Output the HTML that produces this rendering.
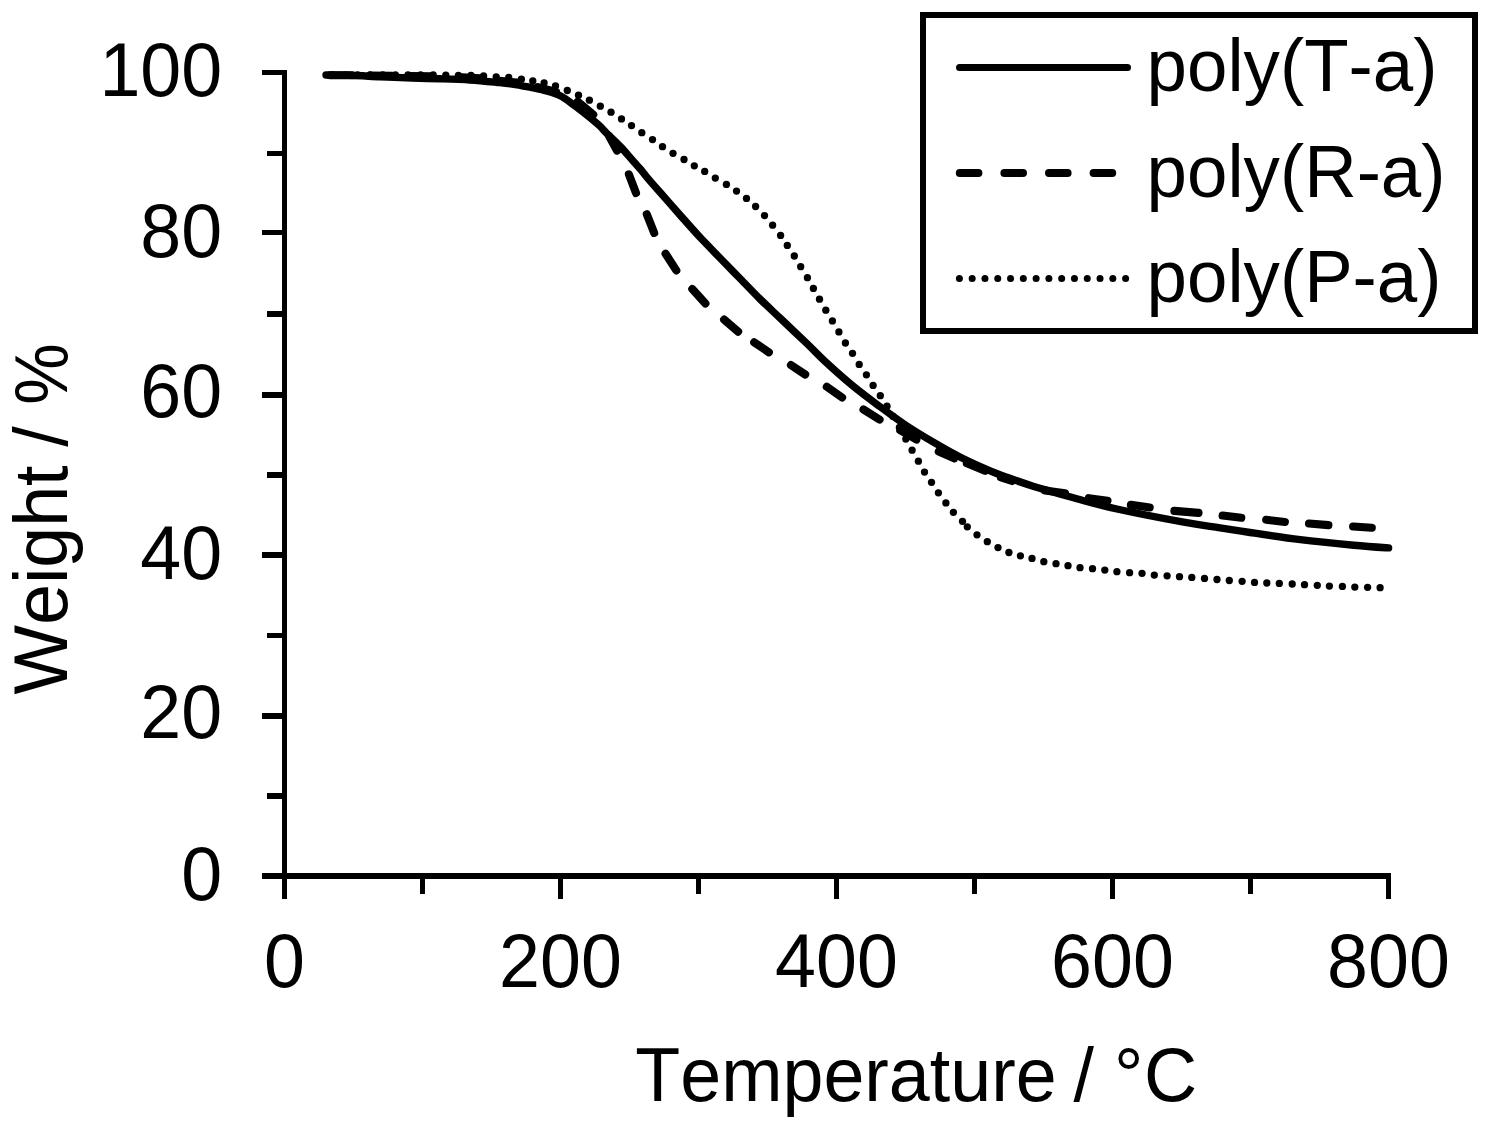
<!DOCTYPE html>
<html lang="en"><head><meta charset="utf-8">
<style>html,body{margin:0;padding:0;background:#fff}svg{display:block}text{font-family:"Liberation Sans",sans-serif;font-size:73.6px;fill:#000;font-kerning:none;font-variant-ligatures:none}</style></head><body>
<svg width="1495" height="1128" viewBox="0 0 1495 1128">
<rect width="1495" height="1128" fill="#fff"/>
<g fill="#000" shape-rendering="crispEdges">
<rect x="282" y="70" width="5" height="829"/>
<rect x="262" y="873" width="1129" height="6"/>
<rect x="267" y="793.4" width="17" height="5.6"/>
<rect x="262" y="713.1" width="22" height="5.6"/>
<rect x="267" y="632.7" width="17" height="5.6"/>
<rect x="262" y="552.0" width="22" height="5.6"/>
<rect x="267" y="471.9" width="17" height="5.6"/>
<rect x="262" y="391.9" width="22" height="5.6"/>
<rect x="267" y="311.2" width="17" height="5.6"/>
<rect x="262" y="229.8" width="22" height="5.6"/>
<rect x="267" y="150.6" width="17" height="5.6"/>
<rect x="262" y="69.7" width="22" height="5.6"/>
<rect x="420.0" y="876" width="5" height="18"/>
<rect x="558.0" y="876" width="5" height="23"/>
<rect x="696.0" y="876" width="5" height="18"/>
<rect x="834.0" y="876" width="5" height="23"/>
<rect x="972.0" y="876" width="5" height="18"/>
<rect x="1110.0" y="876" width="5" height="23"/>
<rect x="1248.0" y="876" width="5" height="18"/>
<rect x="1386.0" y="876" width="5" height="23"/>
</g>
<g text-anchor="end">
<text transform="translate(222.2,899.8) scale(1,1.035)">0</text>
<text transform="translate(222.2,738.1) scale(1,1.035)">20</text>
<text transform="translate(222.2,579.0) scale(1,1.035)">40</text>
<text transform="translate(222.2,417.4) scale(1,1.035)">60</text>
<text transform="translate(222.2,256.6) scale(1,1.035)">80</text>
<text transform="translate(222.2,95.8) scale(1,1.035)">100</text>
</g><g text-anchor="middle">
<text transform="translate(284.5,986.7) scale(1,1.035)">0</text>
<text transform="translate(560.5,986.7) scale(1,1.035)">200</text>
<text transform="translate(836.5,986.7) scale(1,1.035)">400</text>
<text transform="translate(1112.5,986.7) scale(1,1.035)">600</text>
<text transform="translate(1388.5,986.7) scale(1,1.035)">800</text>
</g>
<text transform="translate(0,1101) scale(1,1.03)" style="font-size:73.6px"><tspan x="635.3">Temperature </tspan><tspan x="1073.6">/ </tspan><tspan x="1114.1">°</tspan><tspan x="1144">C</tspan></text>
<text transform="translate(67.2,700) rotate(-90) scale(1,1.03)" style="font-size:73.6px"><tspan x="5.5">Weight </tspan><tspan x="253.2">/ </tspan><tspan x="295.2" textLength="61.5" lengthAdjust="spacingAndGlyphs">%</tspan></text>
<g fill="none" stroke="#000" stroke-linecap="round" stroke-linejoin="round">
<path stroke-width="7.4" d="M326.0,75.0C330.0,75.0 341.0,75.0 350.0,75.3C359.0,75.6 369.7,76.3 380.0,76.8C390.3,77.2 402.0,77.7 412.0,78.0C422.0,78.3 430.3,78.5 440.0,78.8C449.7,79.1 460.6,79.4 470.0,80.0C479.4,80.6 489.1,81.6 496.1,82.3C503.1,83.0 506.8,83.3 512.1,84.1C517.5,84.9 522.9,85.9 528.2,86.9C533.6,88.0 538.9,88.9 544.2,90.4C549.6,91.9 554.9,93.0 560.3,95.8C565.6,98.5 570.9,102.9 576.3,106.9C581.6,110.9 588.4,116.4 592.4,119.6C596.4,122.8 597.6,123.9 600.0,126.2C602.4,128.5 603.6,130.2 607.0,133.6C610.4,137.0 615.9,141.9 620.4,146.6C624.9,151.3 630.5,158.1 633.8,161.8C637.1,165.5 638.1,166.4 640.3,169.0C642.5,171.6 643.8,173.6 647.2,177.6C650.6,181.6 655.0,186.6 660.5,192.8C666.0,199.0 674.5,208.8 680.0,215.0C685.5,221.2 690.0,226.2 693.6,230.3C697.2,234.4 697.5,234.7 701.9,239.3C706.3,243.9 713.6,251.5 720.0,258.0C726.4,264.5 733.3,271.7 740.0,278.5C746.7,285.3 753.3,292.4 760.0,299.0C766.7,305.6 772.5,310.9 780.3,318.3C788.1,325.7 799.2,336.2 807.0,343.6C814.8,351.1 819.0,355.9 826.8,363.0C834.5,370.1 844.6,379.1 853.5,386.4C862.4,393.7 871.4,400.3 880.3,406.9C889.2,413.5 898.1,420.1 907.0,426.0C915.9,431.9 924.9,437.2 933.8,442.4C942.7,447.6 951.6,452.7 960.5,457.2C969.4,461.7 979.5,466.2 987.3,469.6C995.0,473.0 999.2,474.5 1007.0,477.3C1014.8,480.1 1026.6,484.1 1033.8,486.4C1041.0,488.7 1042.8,489.1 1050.0,491.2C1057.2,493.3 1065.6,495.8 1076.8,498.8C1088.0,501.8 1099.1,505.1 1116.9,509.0C1134.7,512.9 1166.6,519.1 1183.8,522.2C1201.0,525.3 1209.0,526.1 1220.0,527.8C1231.0,529.5 1236.6,530.5 1250.0,532.5C1263.4,534.5 1283.0,537.5 1300.3,539.6C1317.6,541.7 1339.1,543.8 1353.8,545.2C1368.5,546.6 1382.8,547.5 1388.6,547.9"/>
<g stroke-width="8.1">
<line x1="330.0" y1="75.2" x2="352.0" y2="75.3"/>
<line x1="370.0" y1="75.6" x2="392.0" y2="75.9"/>
<line x1="410.0" y1="76.0" x2="432.0" y2="76.3"/>
<line x1="462.0" y1="77.2" x2="480.0" y2="78.3"/>
<line x1="499.0" y1="80.9" x2="517.0" y2="82.6"/>
<line x1="538.0" y1="87.2" x2="556.0" y2="92.0"/>
<line x1="577.7" y1="101.7" x2="593.2" y2="114.7"/>
<line x1="609.2" y1="136.2" x2="617.0" y2="150.6"/>
<line x1="628.9" y1="174.4" x2="636.0" y2="193.0"/>
<line x1="646.8" y1="214.2" x2="654.2" y2="232.9"/>
<line x1="665.6" y1="253.7" x2="676.3" y2="270.4"/>
<line x1="692.3" y1="289.1" x2="705.4" y2="303.5"/>
<line x1="724.1" y1="319.6" x2="738.1" y2="331.6"/>
<line x1="754.2" y1="342.3" x2="768.9" y2="352.3"/>
<line x1="791.0" y1="365.1" x2="805.2" y2="374.5"/>
<line x1="826.8" y1="386.8" x2="842.1" y2="397.5"/>
<line x1="863.5" y1="409.5" x2="879.6" y2="419.6"/>
<line x1="900.3" y1="430.3" x2="916.4" y2="439.6"/>
<line x1="938.8" y1="451.5" x2="954.2" y2="458.4"/>
<line x1="966.9" y1="463.3" x2="985.0" y2="470.7"/>
<line x1="1001.0" y1="477.5" x2="1012.0" y2="481.0"/>
<line x1="1045.0" y1="490.6" x2="1065.0" y2="493.3"/>
<line x1="1088.8" y1="498.2" x2="1107.5" y2="500.8"/>
<line x1="1130.9" y1="504.8" x2="1149.7" y2="507.5"/>
<line x1="1174.4" y1="510.9" x2="1198.5" y2="512.9"/>
<line x1="1222.6" y1="515.6" x2="1241.3" y2="517.7"/>
<line x1="1266.2" y1="519.8" x2="1284.9" y2="521.9"/>
<line x1="1309.0" y1="523.5" x2="1328.4" y2="525.1"/>
<line x1="1353.1" y1="526.5" x2="1371.8" y2="527.8"/>
</g></g>
<g fill="#000">
<circle cx="332.4" cy="75.0" r="3.65"/>
<circle cx="345.0" cy="75.0" r="3.65"/>
<circle cx="357.6" cy="75.0" r="3.65"/>
<circle cx="370.2" cy="75.0" r="3.65"/>
<circle cx="382.8" cy="75.0" r="3.65"/>
<circle cx="395.4" cy="75.0" r="3.65"/>
<circle cx="408.0" cy="75.0" r="3.65"/>
<circle cx="420.6" cy="75.0" r="3.65"/>
<circle cx="433.2" cy="75.0" r="3.65"/>
<circle cx="445.8" cy="75.1" r="3.65"/>
<circle cx="458.4" cy="75.3" r="3.65"/>
<circle cx="471.0" cy="75.5" r="3.65"/>
<circle cx="483.6" cy="76.0" r="3.65"/>
<circle cx="496.2" cy="76.8" r="3.65"/>
<circle cx="508.7" cy="77.4" r="3.65"/>
<circle cx="521.4" cy="79.2" r="3.65"/>
<circle cx="532.8" cy="81.0" r="3.65"/>
<circle cx="544.1" cy="82.8" r="3.65"/>
<circle cx="555.5" cy="85.9" r="3.65"/>
<circle cx="567.3" cy="90.5" r="3.65"/>
<circle cx="578.5" cy="95.2" r="3.65"/>
<circle cx="589.4" cy="100.2" r="3.65"/>
<circle cx="600.3" cy="106.2" r="3.65"/>
<circle cx="611.0" cy="112.2" r="3.65"/>
<circle cx="621.5" cy="118.9" r="3.65"/>
<circle cx="631.5" cy="125.6" r="3.65"/>
<circle cx="641.8" cy="132.7" r="3.65"/>
<circle cx="652.5" cy="139.6" r="3.65"/>
<circle cx="662.5" cy="146.7" r="3.65"/>
<circle cx="673.0" cy="153.3" r="3.65"/>
<circle cx="684.0" cy="159.5" r="3.65"/>
<circle cx="694.3" cy="165.8" r="3.65"/>
<circle cx="704.7" cy="171.4" r="3.65"/>
<circle cx="715.3" cy="178.1" r="3.65"/>
<circle cx="726.4" cy="184.4" r="3.65"/>
<circle cx="736.5" cy="191.1" r="3.65"/>
<circle cx="746.5" cy="198.4" r="3.65"/>
<circle cx="755.6" cy="206.5" r="3.65"/>
<circle cx="764.5" cy="215.6" r="3.65"/>
<circle cx="772.6" cy="225.2" r="3.65"/>
<circle cx="780.6" cy="235.4" r="3.65"/>
<circle cx="787.3" cy="245.4" r="3.65"/>
<circle cx="794.3" cy="256.0" r="3.65"/>
<circle cx="800.7" cy="266.7" r="3.65"/>
<circle cx="807.4" cy="277.7" r="3.65"/>
<circle cx="813.4" cy="288.4" r="3.65"/>
<circle cx="819.5" cy="299.2" r="3.65"/>
<circle cx="825.8" cy="310.2" r="3.65"/>
<circle cx="832.4" cy="320.9" r="3.65"/>
<circle cx="838.9" cy="331.9" r="3.65"/>
<circle cx="845.4" cy="343.0" r="3.65"/>
<circle cx="852.5" cy="353.3" r="3.65"/>
<circle cx="859.2" cy="364.4" r="3.65"/>
<circle cx="866.4" cy="374.8" r="3.65"/>
<circle cx="873.1" cy="385.4" r="3.65"/>
<circle cx="880.3" cy="395.7" r="3.65"/>
<circle cx="887.0" cy="406.2" r="3.65"/>
<circle cx="893.0" cy="416.4" r="3.65"/>
<circle cx="899.4" cy="427.4" r="3.65"/>
<circle cx="905.8" cy="439.1" r="3.65"/>
<circle cx="912.1" cy="450.2" r="3.65"/>
<circle cx="918.4" cy="461.2" r="3.65"/>
<circle cx="924.5" cy="472.1" r="3.65"/>
<circle cx="931.5" cy="482.3" r="3.65"/>
<circle cx="938.4" cy="492.8" r="3.65"/>
<circle cx="945.9" cy="502.9" r="3.65"/>
<circle cx="953.4" cy="512.3" r="3.65"/>
<circle cx="962.5" cy="521.3" r="3.65"/>
<circle cx="967.3" cy="526.8" r="3.65"/>
<circle cx="977.0" cy="534.8" r="3.65"/>
<circle cx="987.3" cy="541.7" r="3.65"/>
<circle cx="998.0" cy="547.6" r="3.65"/>
<circle cx="1008.9" cy="552.5" r="3.65"/>
<circle cx="1020.4" cy="555.8" r="3.65"/>
<circle cx="1032.0" cy="558.4" r="3.65"/>
<circle cx="1043.8" cy="561.7" r="3.65"/>
<circle cx="1056.0" cy="563.7" r="3.65"/>
<circle cx="1068.0" cy="565.7" r="3.65"/>
<circle cx="1080.0" cy="567.7" r="3.65"/>
<circle cx="1092.5" cy="568.7" r="3.65"/>
<circle cx="1104.8" cy="570.1" r="3.65"/>
<circle cx="1116.9" cy="571.7" r="3.65"/>
<circle cx="1129.6" cy="572.7" r="3.65"/>
<circle cx="1142.0" cy="573.3" r="3.65"/>
<circle cx="1154.3" cy="575.1" r="3.65"/>
<circle cx="1167.1" cy="575.8" r="3.65"/>
<circle cx="1179.5" cy="576.7" r="3.65"/>
<circle cx="1191.8" cy="577.4" r="3.65"/>
<circle cx="1204.5" cy="578.4" r="3.65"/>
<circle cx="1217.0" cy="579.5" r="3.65"/>
<circle cx="1229.3" cy="580.5" r="3.65"/>
<circle cx="1242.1" cy="581.3" r="3.65"/>
<circle cx="1254.5" cy="582.4" r="3.65"/>
<circle cx="1266.8" cy="583.0" r="3.65"/>
<circle cx="1279.3" cy="583.4" r="3.65"/>
<circle cx="1292.2" cy="584.0" r="3.65"/>
<circle cx="1304.5" cy="584.7" r="3.65"/>
<circle cx="1317.3" cy="585.3" r="3.65"/>
<circle cx="1329.4" cy="586.1" r="3.65"/>
<circle cx="1342.4" cy="586.4" r="3.65"/>
<circle cx="1354.8" cy="587.1" r="3.65"/>
<circle cx="1367.6" cy="587.3" r="3.65"/>
<circle cx="1380.1" cy="587.7" r="3.65"/>
</g>
<rect x="923" y="15" width="552" height="316" fill="#fff" stroke="#000" stroke-width="6" shape-rendering="crispEdges"/>
<g fill="none" stroke="#000" stroke-linecap="round">
<line x1="959.5" y1="67.5" x2="1127.5" y2="67.5" stroke-width="7"/>
<line x1="959.8" y1="173" x2="1113" y2="173" stroke-width="8" stroke-dasharray="18.6 26"/>
</g><g fill="#000">
<circle cx="959.40" cy="278.4" r="3.5"/>
<circle cx="972.18" cy="278.4" r="3.5"/>
<circle cx="984.97" cy="278.4" r="3.5"/>
<circle cx="997.75" cy="278.4" r="3.5"/>
<circle cx="1010.54" cy="278.4" r="3.5"/>
<circle cx="1023.32" cy="278.4" r="3.5"/>
<circle cx="1036.11" cy="278.4" r="3.5"/>
<circle cx="1048.89" cy="278.4" r="3.5"/>
<circle cx="1061.68" cy="278.4" r="3.5"/>
<circle cx="1074.46" cy="278.4" r="3.5"/>
<circle cx="1087.25" cy="278.4" r="3.5"/>
<circle cx="1100.03" cy="278.4" r="3.5"/>
<circle cx="1112.82" cy="278.4" r="3.5"/>
<circle cx="1125.61" cy="278.4" r="3.5"/>
</g>
<text transform="translate(1146.6,91) scale(1,1.03)" style="font-size:72.7px">poly(T-a)</text>
<text transform="translate(1146.6,196.5) scale(1,1.03)" style="font-size:72.7px">poly(R-a)</text>
<text transform="translate(1146.6,302) scale(1,1.03)" style="font-size:72.7px">poly(P-a)</text>
</svg></body></html>
